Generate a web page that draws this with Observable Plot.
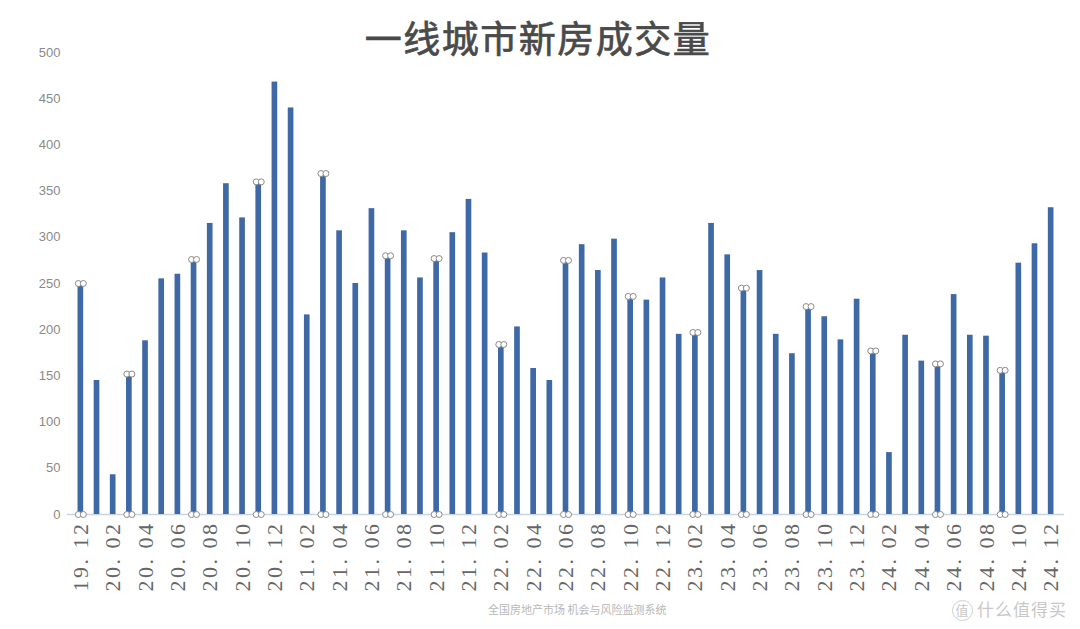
<!DOCTYPE html>
<html>
<head>
<meta charset="utf-8">
<script src="https://cdn.jsdelivr.net/npm/d3@7"></script>
<script src="https://cdn.jsdelivr.net/npm/@observablehq/plot@0.6"></script>
<style>
  html, body { margin: 0; padding: 0; background: #ffffff; }
  #wrap { position: relative; width: 1080px; height: 629px; overflow: hidden; }
  #title { position: absolute; left: 0; top: 14px; width: 1080px; text-align: center;
           font-family: "Noto Sans CJK SC", sans-serif; font-weight: 400; font-size: 37px;
           color: #4a4a4a; -webkit-text-stroke: 0.7px #4a4a4a;
           line-height: 46px; letter-spacing: 1.5px; text-indent: -4px; }
  #caption { position: absolute; left: 488px; top: 601px; font-family: "Noto Sans CJK SC", sans-serif;
             font-size: 11px; color: #b8b8b8; white-space: nowrap; }
  #mark { position: absolute; left: 952px; top: 596px; font-family: "Noto Sans CJK SC", sans-serif;
          font-size: 17px; color: #c8c8c8; white-space: nowrap; letter-spacing: 1px; }
  #mark span { display: inline-block; width: 19px; height: 19px; line-height: 18px; border: 1.5px solid #cfcfcf;
               border-radius: 50%; text-align: center; font-size: 13px; margin-right: 4px; vertical-align: 1px; }
  #chart svg g[aria-label="x-axis tick label"] text {
    font-family: "Liberation Serif", "DejaVu Serif", serif; letter-spacing: 2.5px; }
</style>
</head>
<body>
<div id="wrap">
  <div id="chart"></div>
  <div id="title">一线城市新房成交量</div>
  <div id="caption">全国房地产市场 机会与风险监测系统</div>
  <div id="mark"><span>值</span>什么值得买</div>
</div>
<script>
const months = [
  "19.12",
  "20.01","20.02","20.03","20.04","20.05","20.06","20.07","20.08","20.09","20.10","20.11","20.12",
  "21.01","21.02","21.03","21.04","21.05","21.06","21.07","21.08","21.09","21.10","21.11","21.12",
  "22.01","22.02","22.03","22.04","22.05","22.06","22.07","22.08","22.09","22.10","22.11","22.12",
  "23.01","23.02","23.03","23.04","23.05","23.06","23.07","23.08","23.09","23.10","23.11","23.12",
  "24.01","24.02","24.03","24.04","24.05","24.06","24.07","24.08","24.09","24.10","24.11","24.12"
];
const volumes = [
  250,
  145, 43, 152, 188, 255, 260, 276, 315, 358, 321, 360, 468,
  440, 216, 369, 307, 250, 331, 280, 307, 256, 277, 305, 341,
  283, 184, 203, 158, 145, 275, 292, 264, 298, 236, 232, 256,
  195, 197, 315, 281, 245, 264, 195, 174, 225, 214, 189, 233,
  177, 67, 194, 166, 163, 238, 194, 193, 156, 272, 293, 332
];
const xTicks = [
  "19.12","20.02","20.04","20.06","20.08","20.10","20.12",
  "21.02","21.04","21.06","21.08","21.10","21.12",
  "22.02","22.04","22.06","22.08","22.10","22.12",
  "23.02","23.04","23.06","23.08","23.10","23.12",
  "24.02","24.04","24.06","24.08","24.10","24.12"
];
const yTicks = [0, 50, 100, 150, 200, 250, 300, 350, 400, 450, 500];
const handleMonths = ["19.12","20.03","20.07","20.11","21.03","21.07","21.10","22.02",
                      "22.06","22.10","23.02","23.05","23.09","24.01","24.05","24.09"];

const data = months.map((m, i) => ({month: m, value: volumes[i], handle: handleMonths.includes(m)}));
const handles = data.filter(d => d.handle);

const handleStyle = {x: "month", r: 3, fill: "white", stroke: "#8a8a8a", strokeWidth: 1};

const chart = Plot.plot({
  width: 1080,
  height: 629,
  marginTop: 52,
  marginBottom: 115,
  marginLeft: 67,
  marginRight: 16,
  style: {background: "transparent", overflow: "visible"},
  x: {domain: months, paddingInner: 0.65, paddingOuter: 0.65, round: false},
  y: {domain: [0, 500]},
  marks: [
    Plot.ruleY([0], {stroke: "#c7d4e8", strokeWidth: 1.5}),
    Plot.barY(data, {x: "month", y: "value", fill: "#3e69a5"}),
    Plot.dot(handles, {...handleStyle, y: "value", dx: -2.5}),
    Plot.dot(handles, {...handleStyle, y: "value", dx: 2.5}),
    Plot.dot(handles, {...handleStyle, y: () => 0, dx: -2.5}),
    Plot.dot(handles, {...handleStyle, y: () => 0, dx: 2.5}),
    Plot.axisY({ticks: yTicks, tickSize: 0, tickPadding: 7, label: null,
                fontSize: 13, fontFamily: "Liberation Sans, sans-serif", fill: "#8a8a8a"}),
    Plot.axisX({ticks: xTicks, tickSize: 0, tickPadding: 7, tickRotate: -90, label: null,
                tickFormat: d => d.replace(".", ". "),
                fontSize: 22, fill: "#666666"})
  ]
});
document.getElementById("chart").appendChild(chart);
</script>
</body>
</html>
